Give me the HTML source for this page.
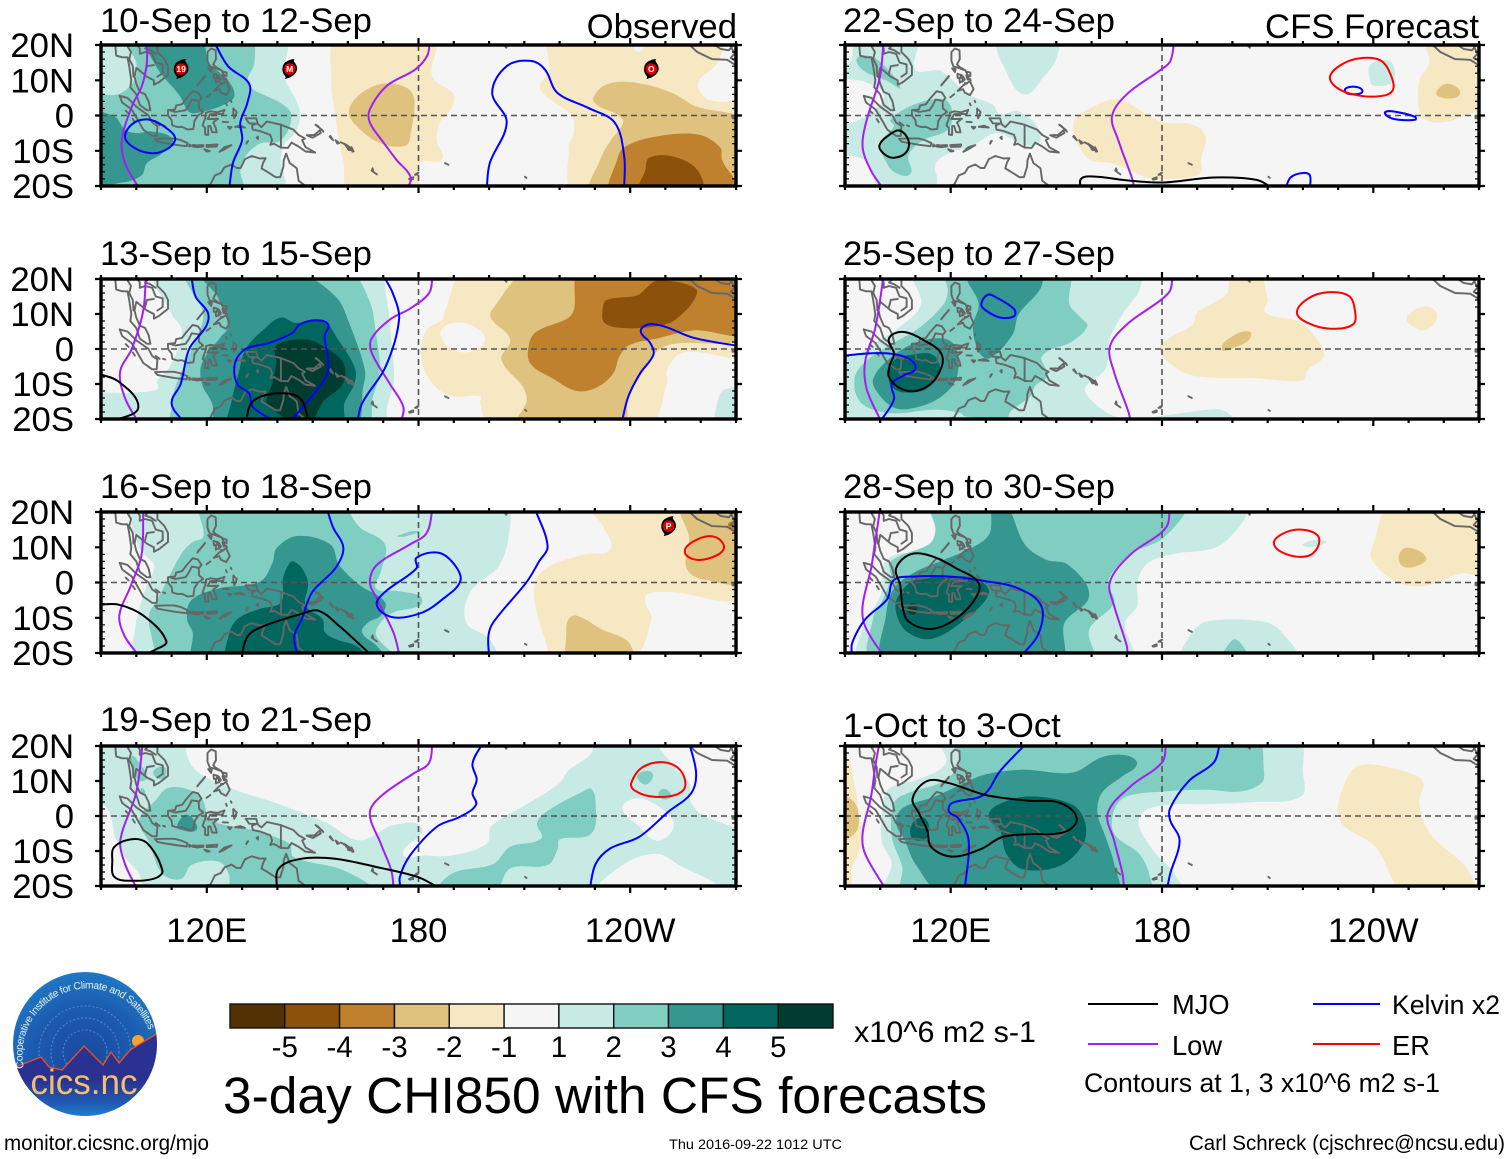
<!DOCTYPE html>
<html lang="en">
<head>
<meta charset="utf-8">
<title>3-day CHI850 with CFS forecasts</title>
<style>
html,body{margin:0;padding:0;background:#fff}
svg{display:block}
text{font-family:"Liberation Sans",Arial,sans-serif;fill:#000}
</style>
</head>
<body>
<svg id="chart" xmlns="http://www.w3.org/2000/svg" width="1510" height="1159" viewBox="0 0 1510 1159">
<rect width="1510" height="1159" fill="#fff"/>
<g id="panels"></g>

<g>
<text x="100" y="32" font-size="34.7">10-Sep to 12-Sep</text>
<text x="100" y="265" font-size="34.7">13-Sep to 15-Sep</text>
<text x="100" y="498" font-size="34.7">16-Sep to 18-Sep</text>
<text x="100" y="731" font-size="34.7">19-Sep to 21-Sep</text>
<text x="843" y="32" font-size="34.7">22-Sep to 24-Sep</text>
<text x="843" y="265" font-size="34.7">25-Sep to 27-Sep</text>
<text x="843" y="498" font-size="34.7">28-Sep to 30-Sep</text>
<text x="843" y="737" font-size="34.7">1-Oct to 3-Oct</text>
<text x="737" y="38" font-size="34.7" text-anchor="end">Observed</text>
<text x="1479" y="38" font-size="34.7" text-anchor="end">CFS Forecast</text>
</g>

<g id="colorbar"></g>
<text x="854" y="1042" font-size="30" textLength="182" lengthAdjust="spacingAndGlyphs">x10^6 m2 s-1</text>
<text x="223" y="1113" font-size="51.4" textLength="764" lengthAdjust="spacingAndGlyphs">3-day CHI850 with CFS forecasts</text>

<g>
<line x1="1088" x2="1158" y1="1004" y2="1004" stroke="#000" stroke-width="2"/>
<text x="1172" y="1014" font-size="27.3">MJO</text>
<line x1="1313" x2="1380" y1="1004" y2="1004" stroke="#0000ff" stroke-width="2"/>
<text x="1392" y="1014" font-size="27" textLength="108" lengthAdjust="spacingAndGlyphs">Kelvin x2</text>
<line x1="1088" x2="1158" y1="1044" y2="1044" stroke="#a020f0" stroke-width="2"/>
<text x="1172" y="1055" font-size="27.3">Low</text>
<line x1="1313" x2="1380" y1="1044" y2="1044" stroke="#ff0000" stroke-width="2"/>
<text x="1392" y="1055" font-size="27.3">ER</text>
<text x="1084" y="1092" font-size="26.5" textLength="356" lengthAdjust="spacingAndGlyphs">Contours at 1, 3 x10^6 m2 s-1</text>
</g>

<text x="4" y="1150" font-size="21" textLength="205" lengthAdjust="spacingAndGlyphs">monitor.cicsnc.org/mjo</text>
<text x="669" y="1149" font-size="14" textLength="173" lengthAdjust="spacingAndGlyphs">Thu 2016-09-22 1012 UTC</text>
<text x="1189" y="1150" font-size="21" textLength="316" lengthAdjust="spacingAndGlyphs">Carl Schreck (cjschrec@ncsu.edu)</text>

<g>
<defs>
<radialGradient id="logoSky" cx="50%" cy="62%" r="65%">
<stop offset="0" stop-color="#1a479f"/><stop offset="0.6" stop-color="#1c5cb0"/><stop offset="1" stop-color="#1f7cc8"/>
</radialGradient>
<linearGradient id="logoGround" x1="0" y1="0" x2="0" y2="1">
<stop offset="0" stop-color="#2b3190"/><stop offset="0.55" stop-color="#2b3190"/><stop offset="0.85" stop-color="#1f5fb8"/><stop offset="1" stop-color="#1f88d4"/>
</linearGradient>
<clipPath id="logoClip"><circle cx="85" cy="1044" r="72"/></clipPath>
<path id="logoArc" d="M24 1068 A65 65 0 1 1 152 1040"/>
</defs>
<circle cx="85" cy="1044" r="72" fill="url(#logoSky)"/>
<g clip-path="url(#logoClip)" fill="none" stroke="#5f97d6" stroke-width="1.2" stroke-dasharray="2 2" opacity="0.7">
<circle cx="85" cy="1052" r="22"/><circle cx="85" cy="1052" r="34"/><circle cx="85" cy="1052" r="46"/>
</g>
<circle cx="138" cy="1041" r="6" fill="#f2a632"/>
<path clip-path="url(#logoClip)" d="M10 1068 L18 1066 L41 1057 L49 1067 L62 1070 L84 1046 L103 1065 L111 1052 L119 1063 L130 1050 L158 1033 L160 1118 L10 1118 Z" fill="url(#logoGround)" stroke="#e2502a" stroke-width="1.4"/>
<text x="84" y="1094" font-size="35" text-anchor="middle" style="fill:#f0c070">cics.nc</text>
<text font-size="10.4" style="fill:#e8f0fa"><textPath href="#logoArc" textLength="195">Cooperative Institute for Climate and Satellites</textPath></text>
</g>
</svg>

<script>
/* ---------- colour scale and axis labels ---------- */
const bandColors = ['#543005','#8c510a','#bf812d','#dfc27d','#f6e8c3','#f5f5f5','#c7eae5','#80cdc1','#35978f','#01665e','#003c30'];
const colorbarLabels = ['-5','-4','-3','-2','-1','1','2','3','4','5'];
const latTicks = [20,10,0,-10,-20];
const latLabels = ['20N','10N','0','10S','20S'];
const lonMajor = [120,180,240];
const lonLabels = ['120E','180','120W'];

/* ---------- geography (lon, lat) ---------- */
const coastLines = [
[94,20.5,94.3,17,96,16.5,97.5,16.5,98,14,98.6,10,98.3,8,100,6,101,3,103,1.5,104,1.5,103.5,4,102.5,6,101,6.7,100,9,99.5,11,100,13.5,101,12.7,103,11,105,10,105,8.7,106.5,9.5,109,11.5,109,14,108,16,106,18,106,20,108,21],
[100,20.5,101,19,101,17.5,102.5,18,104.5,17.5,105.5,15,107.5,14.5,107.5,12,106,11],
[97,20.5,98.5,18,98,16,99,14,99.2,11],[102.5,12,103,14,105,14.3],[104,20.5,102.5,19,104,18.5,105.5,17.5],
[95.3,5.6,97.5,5,100,2.5,103.5,0,104.5,-2,106,-3,105.8,-5.8,104.5,-5.8,102,-4,100.3,-1,98.7,1.7,96,3.7,95.3,5.6],
[97,1.4,97.8,0.6],[99,-1,99.6,-1.9],[105.5,-2,106.6,-2.8],[107.6,-2.8,108.2,-3],
[105.3,-6.6,108,-6.5,110.8,-6.5,112.7,-7,114.5,-7.8,114.3,-8.7,111,-8.3,108,-7.8,106,-7.4,105.3,-6.6],
[115,-8.2,115.6,-8.6,115,-8.8,115,-8.2],[116,-8.4,116.7,-8.4,116.5,-8.9,116,-8.8,116,-8.4],
[116.8,-8.5,119,-8.4,119,-8.8,117,-9,116.8,-8.5],[119.9,-8.4,123,-8.2,122.8,-8.8,120,-8.9,119.9,-8.4],
[119.3,-9.6,120.8,-10.1,120,-10.2,119.3,-9.6],[123.6,-10.3,125,-9,127,-8.4,125,-9.6,123.6,-10.3],
[109,1.5,111,1.7,111.3,2.8,113,3.2,114,4.6,116,6.9,117.5,6.5,118.5,5,117.7,4,117.8,2,119,1,117.5,0,116.5,-1.5,116.2,-3.8,114.6,-4,113,-3.2,111.7,-3.3,110.2,-2.8,110,-1.3,109,0,109,1.5],
[109.5,1.5,111,1,114,1.5,115,3,115.7,4.5,117.5,4.2],
[119.8,0.8,121,1.2,123,0.9,125,1.6,124.5,0.4,121,0.4,120.2,-1,121.5,-1,123.2,-0.9,121.8,-2,122.5,-3.5,122.8,-4.8,121.5,-4.7,121,-3,120.4,-3,120.4,-5.5,119.5,-5.4,119.5,-3.5,118.8,-2.8,119.5,-0.8,119.8,0.8],
[120.2,18,121.2,19,122.5,18.5,122.6,16,121.8,14.5,122.5,13.8,124.2,12.8,123.6,13,122,13.6,120.8,13.9,120.2,15.5,120.2,18],
[120.4,13.4,121.4,13.2,121.2,12.3,120.4,13.4],[121.9,11.8,123.1,11.5,122.6,10.6,122,10.6,121.9,11.8],[124.3,12.5,125.6,12.2,125.6,11.2,124.9,11.4,124.3,12.5],
[124.4,11.4,125,11,125.2,10.2,124.8,10.2,124.4,11.4],[123.2,10.9,123.5,9.9,122.6,9.3,122.5,10.5,123.2,10.9],[123.4,11.2,124,10.2,123.4,9.6],[125.5,10.4,125.7,9.9],
[122,7,123.5,8.5,125.5,9.7,126.5,7.5,125.5,5.8,124,6.5,123.5,7.5,122,7],[124,9.2,124.7,9.1],
[117.3,8.5,119.5,11.2],[117.4,8.7,119.4,11],[119.9,5.2,121,6],
[127.5,2,128.5,1,127.8,-0.8,127.5,0.5,127.5,2],[128,-3.2,130.8,-3.4,129.5,-2.9,128,-3.2],[126,-3.2,127,-3.3,126.5,-3.8,126,-3.2],
[124.5,-1.8,126,-1.9],[131.2,-8,131.7,-7.2,131.4,-7.4,131.2,-8],[134.5,-6,134.5,-6.7,134.1,-6.3,134.5,-6],[125.4,3.5,125.7,2.9],[126.8,4.2,127,3.8],
[131,-0.8,134,-0.8,134.5,-2.5,135.5,-3.3,137,-1.7,141,-2.6,144.5,-4,146,-5.5,147.8,-6.5,147,-7,148,-9,150.7,-10.5,148,-10.2,146,-8.8,144,-7.7,143,-9.2,141,-9.1,139,-8,138,-8.3,138.5,-7,138,-5.5,135,-4.4,133,-4,132.8,-2.8,134,-2.3,132,-2.2,131,-0.8],
[141,-2.6,141,-9.1],
[148.3,-5.6,150.5,-5.5,152,-4.2,152.3,-5,150,-6.3,148.3,-5.6],[150.8,-2.6,152.8,-4.2,153,-4.6,151.5,-3,150.8,-2.6],
[155,-5.8,155.8,-7,154.8,-6,155,-5.8],[156.5,-7,157.5,-7.8,157,-8,156.5,-7],[158,-7.6,159.6,-8.4],[159,-8,160.8,-9.2,160,-9.3,159,-8],[160,-9.5,161,-9.8,160.2,-9.8,160,-9.5],[161,-9,161.6,-10.2,161.2,-10.2,161,-9],
[167,-15,167.2,-16,166.7,-15.6,167,-15],[167.5,-16.2,168.2,-16.7],
[177.3,-18,178.5,-17.5,178.5,-18,177.5,-18.2,177.3,-18],[179,-16.8,180,-16.2,179.6,-16.8,179,-16.8],
[187.5,-13.5,188.5,-14],[210.2,-17.4,210.6,-17.7],[204.4,19.8,204.9,19.2,205,19.7],[197.2,20.2,197.8,20],
[115,-20.8,119,-20,121,-19.6,122.3,-17,124,-16.3,125,-14.7,127,-13.9,128.5,-14.9,129.6,-14.9,130.8,-12.4,132.7,-11.5,135,-12.2,136.7,-12.1,136,-13.3,135.5,-15,137,-15.9,139.5,-17.5,140.8,-17.5,141.7,-14.5,141.8,-12.7,142.5,-10.8,143.5,-13.5,144.5,-14.2,145.5,-15,146,-18.5,148,-20,149,-21],
[254.7,22,259,18,263.2,16,267.5,15.8,272,13],[263.5,20.3,265.6,18.9,268,18.5,270,21],[268.5,19.6,269.6,17.6,268.5,16.3,270,15.5],
[269,-0.1,269.5,-0.2,269.5,-0.8,269,-0.8,269,-0.1]
];

/* ---------- panel 1: 10-Sep to 12-Sep ---------- */
const p1Fills = [
[1,85,22,141.5,22,142,11,145.5,4,146.5,0,145,-5,142,-8,141,-12,141,-22,85,-22],
[2,85,5,94.8,6,99.5,10,100,15,97.5,22,132,22,133.5,15,131.5,10,133,7.5,141,3.5,144,0,141,-7,135,-8,131,-11.5,129.5,-15.5,130,-22,85,-22],
[3,103.6,22,105.6,14,112.4,5.5,115,1,118.5,1,124.7,3,127.8,5.5,126,10,120.6,15,118,22],
[3,85,0,93.4,0,96.8,-4,100,-5,104.3,-4.5,110.4,-7,107,-11,103,-13.5,101.5,-17,96,-19,85,-19],
[-1,157.3,22,155.3,9.5,156,3,157.6,-8,158.7,-13,160.7,-22,179,-22,180.5,-13.5,186.6,-12.5,185.2,-7,186,-2,189.3,2,190,6,183.9,11,183.9,22],
[-2,169.6,9,176.4,8,178.8,4.5,177.8,-5,176.4,-8.5,169.6,-8,163.5,-4,160.3,0.7,162.8,5.5],
[-1,217.6,22,217,12.7,214.5,7.5,223.4,0,224,-5,222.6,-9,224.7,-22,275,-22,275,1.7,262,4.6,259.3,9.3,264.8,15,265.5,22,245.8,22,242.4,18,239,22],
[-2,229.5,5,233.5,8.9,241.7,9.3,251.7,6.5,258.4,2.7,275,-3,275,-22,229.4,-22,231.5,-12.5,234.5,-7,238,-2,236.3,0.3,231,2.7],
[-3,238.3,-9,247,-6,259.3,-5.4,265.5,-9,266,-12.5,270,-22,235,-22,236.3,-12.5],
[-4,245.4,-12,252,-11.6,259,-15.4,260,-22,243,-22,244.3,-15.4]
];
const p1Low = [[103,21,103,15,101.6,8.4,98.8,2.7,95.9,-7,96.8,-13.5,101,-21],[183.2,21,182.5,17,179,13,171,8.4,166.2,1.7,166.2,-2,169.6,-7,173.7,-12.5,177.8,-17.5,176.7,-21]];
const p1Kelvin = [[122,21,126,14,132,9,131.5,3.6,129.5,-2,130,-7,127.4,-13.5,126.3,-21],[199.3,-21,200.2,-13.5,205,-2,200.9,6.5,205,14,211.8,15.5,215.9,13,219.3,6.5,228,2.2,235.6,-2,238.3,-11.6,238.3,-21]];
const p1KelvinLoops = [[96.8,-6,99.5,-2,104.3,-1.3,109.7,-4.5,111,-7,108.4,-9.7,104.3,-10.7,99.5,-9.2]];
const p1Mjo = [];
const p1MjoLoops = [];
const p1ErLoops = [];
const p1Storms = [[112.7,13.2,'19'],[143.5,13.2,'M'],[246,13.2,'O']];

/* ---------- panel 2: 13-Sep to 15-Sep ---------- */
const p2Fills = [
[1,106,22,168,22,171,14,172.5,0,173,-9,171,-17,170.3,-22,85,-22,85,-14,99,-12.5,106,-11.5,106,-9,109.5,-5,113,5,110,10],
[2,115,22,160,22,166,14,168,4,169,-6,167,-14,165,-22,110,-22,110,-17,111,-11,114,-4,117,3,119,10],
[3,118.6,22,145,22,156.5,15,160.5,7,164.8,-6,164.3,-11,161.5,-22,123,-22,121.5,-15.5,118.6,-10,118.6,-4,124,3.5,126,6.5,123,15],
[4,141,9,145,7.5,153,8,157,3,162,-5.5,161.8,-10,159,-15.5,158,-22,126.7,-22,127,-15,129,-7,131,0,136,5.5],
[5,139.7,1,148.2,2.7,153,0.8,158.7,-4,158.5,-10,153,-15,148.8,-22,144,-22,141,-19,137,-15.5,138.5,-10,139.7,-4],
[-1,193.6,22,187.4,10.5,186.9,8.5,182,5,181,-4,185,-11,190,-13.5,197.5,-13.5,197.5,-15.5,200.6,-22,244.7,-22,250.4,-10,250.4,-6,255,-1,275,-0.5,275,22],
[0,186.5,5.5,191.7,7.6,197.8,5,198.7,1.8,193.5,-1,187.9,1],
[1,267,-11.5,275,-12.5,275,-22,265,-22,264.7,-15.3],
[-2,211.6,22,200.7,11,200.7,8.5,206,2.7,203.5,-3,209.7,-11,210.6,-15,208,-22,237.6,-22,239.5,-13.5,242.8,-8,246.6,-1.6,251.4,1.3,275,4.4,275,22],
[-3,226.3,22,224,11,222,8.6,213.5,5,211.4,1.7,211.6,-4,218.2,-8.5,224.8,-12,230.5,-11,235.2,-7,237,-2,240,1.2,247.6,3,258,5.3,275,5.3,275,22],
[-4,245.2,18,247.6,19.5,256,18.5,259,16,253,8.5,247.6,6.5,238,6,232.7,7.5,232.2,11.3,233.3,14,242,15.3]
];
const p2Low = [[102.7,21,102,11,98.7,0,95.4,-6.5,96.8,-14,100.6,-21],[184,21,183,16,177.5,11.5,172,8.5,166.7,3,166.7,-1,171.9,-10,175.7,-16.5,175,-21]];
const p2Kelvin = [[115.6,21,116.8,15,120.3,10.4,119.8,6.5,115,0,112.6,-10,110,-15.5,113.5,-21],[143.3,-21,151,-12,154.4,-6,153.4,3.7,154.4,7,151,8.2,146.3,7,144.3,4.6,137.6,1.7,131,0,128,-4,128.6,-10,132,-12.7,133,-16.5,139.7,-21],[162.6,-21,164,-15.5,170.7,-5,174.5,8.5,172.7,16,170,21],[237.6,-21,239.5,-13.5,242.8,-7,246.6,-1.6,245.7,1.7,243,5,245,7,249.5,6.5,258,3.2,271,0.8]];
const p2KelvinLoops = [];
const p2Mjo = [[89,-7,95,-9.3,100.6,-16.5,95,-20,89,-21],[131,-21,133,-15,139.7,-12.7,146.3,-14,149,-21]];
const p2MjoLoops = [];
const p2ErLoops = [];
const p2Storms = [];

/* ---------- panel 3: 16-Sep to 18-Sep ---------- */
const p3Fills = [
[1,99.7,22,100.8,10,105,5,104.4,2,102.6,-1.7,99.7,-13,100.3,-22,201.8,-22,200,-16,193.5,-11.3,194.7,-2.7,203,5,206,16.5,204.8,22],
[2,118.8,22,157.5,22,163.4,15.6,170.5,10.8,169.3,3,168,-1.7,174,-2.4,180.6,-4,180.4,-6.5,172.9,-8.5,169.3,-11.3,168,-15,173,-22,108,-22,103.8,-13,103.8,-8.5,105.6,-5.6,112.7,8,116,11.5,119,13],
[2,174,13.2,180,14.6,175.8,13],
[3,139.8,9.8,145.7,13.2,155,10.8,157.5,5,163.4,-0.8,170.5,-5.6,169.3,-9.4,165.8,-11.3,164,-14.2,168.2,-18,170.5,-22,116.5,-22,116,-14.2,114.4,-10.4,115.6,-5,123.3,-1.7,135,0.2,138.6,5.5],
[4,144.5,6,147,4,148.7,-0.3,148,-6.5,152.8,-10.4,153.4,-14,156.3,-16,163.4,-18.6,164,-22,126.2,-22,126.2,-15,128.6,-10.4,135,-7.5,141,-5.6,141.6,1.2,143.4,5.5],
[-1,229,22,232.5,15.6,234.3,9.3,227,8,214.8,3,212.8,-4.6,216.6,-19,216.6,-22,240,-22,246,-10.4,244.3,-5.6,245,-3.2,251,-2.7,275,-3,275,22],
[-2,222.5,-10.4,224.8,-9.4,232,-13.3,239.6,-17,240,-22,223,-22,221.9,-14.2],
[-2,255,22,256.7,12.7,256,4,261.4,0.7,275,1.2,275,22],
[-3,268,17,275,18,275,14,269,14.5]
];
const p3Low = [[102,21,101.5,7.9,98.5,-0.8,95.2,-9.4,96.7,-15.2,100.9,-21],[184,21,182.3,14,177.6,10.8,168.2,5,166.2,0.2,168.2,-4.6,172.9,-14.2,174.7,-21]];
const p3Kelvin = [[154,21,155.8,15.6,158.7,9.8,156.4,4,149.9,-2.7,146.9,-10.4,144.8,-15.2,145.7,-21],[213,21,216.6,10.3,214.2,6,210.7,0.2,201.2,-11.3,199.8,-15.2,200,-21]];
const p3KelvinLoops = [[179.4,7,185.9,8.4,190.6,4.5,191.8,0.2,187,-4.6,181.1,-8.5,172.9,-9.9,168.2,-6.5,170.5,-2.7,179.4,4]];
const p3Mjo = [[89,-6.3,95,-6.3,102,-9.4,108.5,-16.6,105.5,-19,100.9,-21],[129.8,-21,131.6,-15.2,136.3,-12.3,146.9,-8.9,151.6,-8,157.5,-12.3,167,-21]];
const p3MjoLoops = [];
const p3ErLoops = [[255.5,8.8,259,12.2,263.8,13,266.6,10.3,264.9,7.9,259,6.4]];
const p3Storms = [[250.9,16,'P']];

/* ---------- panel 4: 19-Sep to 21-Sep ---------- */
const p4Fills = [
[1,85,22,275,22,275,-22,85,-22],
[0,115.6,22,116,14,128,7.5,138.8,4,154,-2,163.4,-7,172.9,-2.6,181,-3.6,175.6,-10.8,182,-11.3,189.3,-11.3,199.4,-7.9,200.6,-3,209.6,2.7,220,9.4,222.5,13,229,18,229,22],
[0,248.4,22,252.6,14,256.7,9.4,257.3,3.7,262.6,-0.7,275,-2,275,22],
[0,237.8,2.2,241.3,5,246,4,252,-1,251.4,-5,247.3,-7,242.5,-3],
[0,231.3,-22,237.8,-14,247.3,-10.8,253.2,-13.6,265,-22],
[0,85,4,91,3,93,-1,94,-6,97,-12,101,-17,101,-22,85,-22],
[2,167,-22,159,-15.6,144.6,-11.7,143.4,-7.9,132.7,-4,121,-1,118.8,4.6,115,7.5,109,8,105.6,4.6,100.9,-1,103.8,-7.9,107.4,-16.5,112.7,-18,115.6,-14,123.3,-13,126.2,-16.5,127.4,-22],
[2,98.5,17,101,15,103,11,101,10,99,13],
[2,105,13,108,14,108,11,105.5,11],
[2,101.5,8,102.5,7,102,6,101.2,7],
[3,111.5,-3,113.8,0.3,116,-0.7,117,-4,112.7,-4],
[2,229,7.7,230.2,3.7,229,-5,220,-6.7,219.5,-9.3,216.6,-14,206,-15,201.2,-22,185.9,-22,189.4,-16.5,201.2,-13.7,206,-8.8,214.8,-6.4,213.6,-2,217,1.7,226.7,7],
[2,242.7,12.3,245.6,12.8,246.5,11.3,244.4,9,242,11],
[2,248,6.5,249.8,7.7,251.6,5.6,249.2,4.8]
];
const p4Low = [[101.8,21,100.9,12.3,99.7,5.6,95.5,-6.9,96.8,-13.7,100.3,-21],[184,21,182.9,15,178.8,12.3,169.3,5.6,166.2,0.8,169.3,-7.9,172.3,-15.6,173,-21]];
const p4Kelvin = [[198.3,21,195.3,15,196.5,10.4,195.3,6.5,196.3,3.2,191.8,-0.2,185.3,-3,177.6,-11.3,174.7,-17.5,175,-21],[256.7,21,258.7,12.3,257.3,6.5,250.8,1.2,242.5,-6,234.3,-9.3,230.2,-13.7,228.5,-21]];
const p4KelvinLoops = [];
const p4Mjo = [[139.8,-21,140.4,-15,146.9,-12.2,156.4,-12.2,168.2,-14.6,180,-17.5,186.5,-21]];
const p4MjoLoops = [[93.2,-12.7,93.8,-8.8,99.1,-6.6,103.2,-7.9,107.4,-15.6,105.6,-17.7,99.7,-18.5,93.9,-17.5]];
const p4ErLoops = [[240.3,9.4,243.3,13.8,249.2,15.4,254,13.3,255.6,8.5,252.8,6,245.8,5.6,241,7.5]];
const p4Storms = [];

/* ---------- panel 5: 22-Sep to 24-Sep ---------- */
const p5Fills = [
[1,93.3,22,110,22,110,13,117,12.7,125,6,132,3,134,0.3,139,1.2,144.5,-3,145,-8,140,-8,133,-5,125.7,-8.9,120.4,-10.3,115.7,-13.7,116.2,-18.5,115,-22,101,-22,95.7,-12.8,85,-9.9,85,-5.5,95.7,-0.2,101,5.6,95.7,9.5,85,12.4,91.5,15.3],
[1,134,22,135.8,12.4,141,6,146.4,11,150,16.2,150,22],
[1,239,14.3,242.6,15.7,245.4,14.8,245.4,9.5,240,8.5,239,10.4],
[2,93.3,15.3,94.5,17,99,16,105.7,8,101.6,10,95.7,12.4],
[2,102.8,-1.2,109.8,3.2,118,4.6,120.4,1.3,119.2,-4,112.2,-7,108,-11.3,108.6,-16.6,103.9,-16,101,-11.8,99.8,-8,103.9,-3],
[-1,167,4.6,175.8,0.3,180.6,-2,188.8,-2.6,192.4,-6,191.2,-11.8,190.6,-16.6,180.6,-18,175.8,-17.6,166.4,-13.7,159.3,-12.3,155.2,-6,155.2,-1.2,158.2,1.3],
[-1,255,22,256,15.3,253,9.5,253.8,-0.2,259.6,-2,266.7,0.3,275,3.2,275,22],
[-2,258,7,260.8,9,264.3,7.5,264.3,5.6,261.4,4.8,258.3,5.6]
];
const p5Low = [[101,21,99.8,10.4,96.2,-1.2,95,-8.9,97.4,-15.7,101,-21],[183.5,21,182.3,15.3,179.4,12.8,170,6,165.8,-0.2,167.6,-7,171.7,-18.5,172,-21]];
const p5Kelvin = [[215,-21,216.5,-17.6,220,-16.3,222,-17,221.9,-21]];
const p5KelvinLoops = [[231.9,7,234.2,8.2,236.9,7,234.8,6],[243.4,1,246.6,1,251.9,-0.4,251.9,-1.2,247.2,-1.2,244.3,-0.4]];
const p5Mjo = [[157,-21,157,-18,160.5,-17.3,171,-18.5,180.6,-19,194.7,-17.6,207,-18.3,212,-21]];
const p5MjoLoops = [[99.8,-8.4,103.3,-5,105.7,-4.3,108,-7,107.5,-10.3,103.9,-12,101,-10.8]];
const p5ErLoops = [[227.7,11,230.7,14.3,236,16.2,241.9,15.7,244.8,11.9,245.4,7,240.7,5.4,234.2,6,229.5,8]];
const p5Storms = [];

/* ---------- panel 6: 25-Sep to 27-Sep ---------- */
const p6Fills = [
[1,85,-3.2,93.3,-1.7,100.4,3,104.5,5.5,111.6,12.8,109.8,22,173.5,22,173.5,16.7,169.4,10.9,165.2,3,164,-5.6,158.2,-11,159.3,-13.9,165.2,-18.7,171.2,-20,182.9,-18.7,193.4,-17.3,198,-17.8,201,-22,85,-22],
[2,118.7,22,119.2,16.7,118,12.8,111,6,102.8,1.2,95.7,-3.7,92.7,-8.5,94.5,-15.3,102.7,-18.3,115.7,-17.3,122.8,-18.3,124,-19.2,135.8,-20,137,-17.8,142.8,-13.4,144,-10.5,147.5,-7.6,146,-2,154.4,2.1,158.8,6.5,157,8.9,153.7,12.8,153,22],
[3,125.2,22,145,22,145.7,17.7,139.3,9.9,137.5,4,131,-2.7,128,-0.8,126.3,6.5,128,12.8],
[3,98,-8.5,102.7,-2.7,109.8,1.7,118,3,121.6,0.2,121.6,-8.5,116.9,-13.9,109.8,-16.8,104,-16.8,99.2,-12.4],
[4,103.9,-3.2,108.6,-1.7,115,-1.7,116.9,-6.6,112.9,-11.5,106.6,-12.4,103,-10.5,102.5,-6.6],
[-1,200,22,207,22,210,14.3,209.4,10.4,218.3,8,221.8,5.5,226,-1.7,221.3,-6,220,-9,206.5,-8.3,188.8,-7.6,181.8,-3.7,179.3,0.2,181.8,3,188.8,7,190,10.4,198.3,15.7],
[-2,197,0,200.6,4,205,4.9,204.7,2.6,201.2,0.7],
[-1,249.5,8.9,253.7,12,257.2,11.4,258,8.4,254.9,5.5,251.9,6]
];
const p6Low = [[101,21,98.6,6,95.7,-3.7,96.2,-11.5,100.4,-21],[183,21,182.3,16.7,179.4,13.8,170,7,165.2,0.7,166.4,-6.6,170.5,-18,171.1,-21]];
const p6Kelvin = [[89,-2,95.7,-1.3,102.7,-1.3,108,-2.7,110,-5.6,106.6,-7.6,103.3,-10,103.9,-14.4,99.8,-21]];
const p6KelvinLoops = [[128.7,12.8,130.5,15.5,132.8,14.8,138,11.4,138,9.4,134,9,130,11]];
const p6Mjo = [];
const p6MjoLoops = [[102.5,3,106.3,4.9,112.2,2.6,117.5,-1.7,116.3,-7.6,111.6,-11.6,106.3,-11.5,102.5,-8,102.7,-4.7,103.9,-1.3]];
const p6ErLoops = [[218.3,10.4,221.3,14.3,227,16.2,233,15.2,234.8,10.9,234.2,7,227.7,5.8,221.3,7.5]];
const p6Storms = [];

/* ---------- panel 7: 28-Sep to 30-Sep ---------- */
const p7Fills = [
[1,114.5,22,203,22,197,10.9,183,8,176,5.5,173,0.2,173,-6.6,169.5,-11.5,171,-22,94.5,-22,95.7,-11.5,100,-4,102,6.5,114,9.9,115.7,14.8],
[1,186,-22,188.4,-14.4,193,-11,208.5,-11,213.8,-13.9,217.9,-22],
[2,197.7,-22,200,-16.3,202.4,-17.3,204.2,-22],
[2,115,22,185.9,22,180.6,12.8,171,8,164.6,0.2,166.4,-5.6,159.3,-13.4,160,-22,98,-22,98,-10,100.4,-5.6,103,1.2,103,6,114,11,115.7,15],
[3,101.6,-22,101.6,-9.5,103.9,-1.7,110,3,117,6,126.3,10,131,13.8,132.2,22,135.8,22,141,10.9,147,6.5,153.4,5,159.3,-3.7,152.3,-11.5,151,-22],
[4,104.5,-8.5,105,-4,109.8,0.7,119.2,1.9,128,0.7,130.8,-3.2,124,-10.5,114.5,-16,107.5,-13.9],
[5,108.6,-6,110.4,-6.6,109.8,-9,108,-8.5],
[-1,245.4,22,240,10.9,239.5,6.5,246.6,0.2,254.9,-1,265.5,2.6,275,1.6,275,22],
[-2,247.2,7.5,249.5,9.9,255,7,252,4.6,248.4,4.6],
[1,220,10.4,221.8,11.7,226.5,11.7,224,10.4]
];
const p7Low = [[100,21,98.6,11.8,97.4,4,95,-6.6,95.7,-12.4,101,-21],[182.1,21,181.7,16.7,179.4,13.8,171.1,8,165.2,0.2,166.4,-6.6,170,-18,170.2,-21]];
const p7Kelvin = [[92,-21,92,-17.3,95.7,-10.5,102,-4.7,103.9,0.7,110,1.7,119.2,1.7,129.9,0.4,139.3,-1.7,145.7,-6.6,145,-14.4,140,-21]];
const p7KelvinLoops = [];
const p7Mjo = [];
const p7MjoLoops = [[104.5,4,108.6,8,114.5,7.5,121.6,4,128,-0.3,126.3,-5.6,120.4,-11,114,-13.2,108,-11,106.3,-6.6,105.7,-0.8]];
const p7ErLoops = [[211.8,10.9,214.2,13.8,219.5,15,224.2,13.3,224.2,10,221.3,7.5,215.4,8]];
const p7Storms = [];

/* ---------- panel 8: 1-Oct to 3-Oct ---------- */
const p8Fills = [
[-1,85,18,90.5,17,92.5,10,94,1,94.5,-8,92,-15,91,-22,85,-22],
[-2,85,7,92,4.6,93.9,0.3,92.7,-5,85,-8],
[1,116.9,22,118.7,15.3,112,10.9,102.7,8,101,4.6,100.4,-7,103.3,-13.7,101.3,-22,185.3,-22,183,-15.7,178.2,-10.8,173.5,-3,174.7,1.2,181.7,3.2,192.4,3.4,206.5,4,219.5,5.6,220,12.4,218.3,22],
[2,120.5,22,122.8,16,118,10,108,6.6,103.9,3.7,103.3,-6,106.3,-14.8,106.3,-22,176.4,-22,176.4,-16.7,173.5,-10.8,166.4,-5,166.4,1.7,170,5.6,180.6,7,192.4,7.5,202.4,7,208.3,9.5,208.9,13.3,206.5,22],
[3,104.5,-2,106.3,2.2,115.7,5.6,124,9.5,129.9,11.9,140.5,13.2,154.6,12.4,162.9,16.8,170,17.3,172.9,14.8,168.8,11.4,162.9,6.6,161.7,0.8,164,-6,166.4,-13.7,167,-22,117.8,-22,110,-13.7,107,-7],
[4,130.8,0.3,134.5,3.7,142.8,5.6,154.6,3.2,158.2,-2,157.6,-8,151,-14.2,140.5,-15.2,135.8,-10.8,134,-4],
[4,109.2,-2,112.8,-0.7,113.4,-6,109.2,-6.5],
[-1,234.8,13.8,239.5,14.8,251.3,11.9,254.2,9.5,253,3.7,256,-5,266.7,-15.2,267.8,-22,249,-22,240.7,-8.9,231.9,-3,229.8,1.3,231.9,9.5]
];
const p8Low = [[99.8,21,98.6,14.3,97.4,5.6,95,-5,95.7,-10.8,101.6,-21],[181.2,21,180,15.3,171.1,8.5,164.6,0.8,166.4,-7,168.8,-16.6,169.2,-21]];
const p8Kelvin = [[141.7,21,134,12.8,129.3,6,120.4,3.7,119.5,1.3,122.2,-0.7,125.1,-7,124,-21],[196.5,21,194.7,15.3,187.6,10,182.3,2.2,182.3,-1.2,185,-7,182.3,-16.6,181.4,-21]];
const p8KelvinLoops = [];
const p8Mjo = [];
const p8MjoLoops = [[109.2,5,113.3,10,119.2,9.5,129.9,6,141.7,4.4,151.1,3.7,155.8,-0.7,152.3,-4.6,141.7,-5.2,134.6,-6,128.7,-9.4,120.4,-11.6,114.5,-8.9,113.3,-4,111,0.8]];
const p8ErLoops = [];
const p8Storms = [];

/* ---------- collections ---------- */
const panelFills = [p1Fills,p2Fills,p3Fills,p4Fills,p5Fills,p6Fills,p7Fills,p8Fills];
const panelLow = [p1Low,p2Low,p3Low,p4Low,p5Low,p6Low,p7Low,p8Low];
const panelKelvin = [p1Kelvin,p2Kelvin,p3Kelvin,p4Kelvin,p5Kelvin,p6Kelvin,p7Kelvin,p8Kelvin];
const panelKelvinLoops = [p1KelvinLoops,p2KelvinLoops,p3KelvinLoops,p4KelvinLoops,p5KelvinLoops,p6KelvinLoops,p7KelvinLoops,p8KelvinLoops];
const panelMjo = [p1Mjo,p2Mjo,p3Mjo,p4Mjo,p5Mjo,p6Mjo,p7Mjo,p8Mjo];
const panelMjoLoops = [p1MjoLoops,p2MjoLoops,p3MjoLoops,p4MjoLoops,p5MjoLoops,p6MjoLoops,p7MjoLoops,p8MjoLoops];
const panelErLoops = [p1ErLoops,p2ErLoops,p3ErLoops,p4ErLoops,p5ErLoops,p6ErLoops,p7ErLoops,p8ErLoops];
const panelStorms = [p1Storms,p2Storms,p3Storms,p4Storms,p5Storms,p6Storms,p7Storms,p8Storms];

/* ---------- drawing ---------- */
const NS = 'http://www.w3.org/2000/svg';
function mk(tag, parent) {
  const el = document.createElementNS(NS, tag);
  parent.appendChild(el);
  return el;
}
function frameFor(i) {
  const col = i < 4 ? 0 : 1;
  const row = i % 4;
  const left = col === 0 ? 101 : 845;
  const width = col === 0 ? 635 : 634;
  const top = [45, 279, 512, 746][row];
  const height = (row === 0 || row === 2) ? 141 : 140;
  return {left, width, top, height, row, col};
}
function scales(f) {
  return {
    x: lon => f.left + (lon - 90) * f.width / 180,
    y: lat => f.top + (20 - lat) * f.height / 40
  };
}
function toPoints(flat, s) {
  const pts = [];
  for (let k = 0; k + 1 < flat.length; k += 2) pts.push([s.x(flat[k]), s.y(flat[k + 1])]);
  return pts;
}
function smoothPath(pts, closed) {
  const n = pts.length;
  const at = k => closed ? pts[(k + n) % n] : pts[Math.max(0, Math.min(n - 1, k))];
  let d = 'M' + pts[0][0].toFixed(1) + ' ' + pts[0][1].toFixed(1);
  const dirAt = k => {
    const a = at(k - 1), b = at(k + 1);
    const dx = b[0] - a[0], dy = b[1] - a[1];
    const len = Math.hypot(dx, dy) || 1;
    return [dx / len, dy / len];
  };
  const last = closed ? n : n - 1;
  for (let k = 0; k < last; k++) {
    const p = at(k), q = at(k + 1);
    const seg = Math.hypot(q[0] - p[0], q[1] - p[1]) / 3;
    const d1 = dirAt(k), d2 = dirAt(k + 1);
    d += 'C' + (p[0] + d1[0] * seg).toFixed(1) + ' ' + (p[1] + d1[1] * seg).toFixed(1) + ' ' +
         (q[0] - d2[0] * seg).toFixed(1) + ' ' + (q[1] - d2[1] * seg).toFixed(1) + ' ' +
         q[0].toFixed(1) + ' ' + q[1].toFixed(1);
  }
  return d + (closed ? 'Z' : '');
}
function straightPath(pts) {
  return 'M' + pts.map(p => p[0].toFixed(1) + ' ' + p[1].toFixed(1)).join('L');
}
function drawLine(parent, flat, s, closed, color, width) {
  const el = mk('path', parent);
  el.setAttribute('d', smoothPath(toPoints(flat, s), closed));
  el.setAttribute('fill', 'none');
  el.setAttribute('stroke', color);
  el.setAttribute('stroke-width', width);
  el.setAttribute('stroke-linejoin', 'round');
  return el;
}

const root = document.getElementById('panels');
const defs = mk('defs', root);

panelFills.forEach((fills, i) => {
  const f = frameFor(i);
  const s = scales(f);
  const g = mk('g', root);
  
  

  const clip = mk('clipPath', defs);
  clip.setAttribute('id', 'clip' + i);
  const clipRect = mk('rect', clip);
  clipRect.setAttribute('x', f.left);
  clipRect.setAttribute('y', f.top);
  clipRect.setAttribute('width', f.width);
  clipRect.setAttribute('height', f.height);

  const plot = mk('g', g);
  plot.setAttribute('clip-path', 'url(#clip' + i + ')');

  const bg = mk('rect', plot);
  bg.setAttribute('x', f.left);
  bg.setAttribute('y', f.top);
  bg.setAttribute('width', f.width);
  bg.setAttribute('height', f.height);
  bg.setAttribute('fill', bandColors[5]);
  
  

  fills.forEach(band => {
    const level = band[0];
    const el = mk('path', plot);
    el.setAttribute('d', smoothPath(toPoints(band.slice(1), s), true));
    el.setAttribute('fill', bandColors[level + 5]);
    
    
  });

  coastLines.forEach(line => {
    const el = mk('path', plot);
    el.setAttribute('d', straightPath(toPoints(line, s)));
    el.setAttribute('fill', 'none');
    el.setAttribute('stroke', '#666');
    el.setAttribute('stroke-width', '1.9');
    el.setAttribute('stroke-linejoin', 'round');
    el.setAttribute('stroke-linecap', 'round');
    
    
  });

  const equator = mk('line', plot);
  equator.setAttribute('x1', f.left);
  equator.setAttribute('x2', f.left + f.width);
  equator.setAttribute('y1', s.y(0));
  equator.setAttribute('y2', s.y(0));
  equator.setAttribute('stroke', '#555');
  equator.setAttribute('stroke-width', '1.6');
  equator.setAttribute('stroke-dasharray', '6 4');
  
  

  const dateline = mk('line', plot);
  dateline.setAttribute('x1', s.x(180));
  dateline.setAttribute('x2', s.x(180));
  dateline.setAttribute('y1', f.top);
  dateline.setAttribute('y2', f.top + f.height);
  dateline.setAttribute('stroke', '#555');
  dateline.setAttribute('stroke-width', '1.6');
  dateline.setAttribute('stroke-dasharray', '6 4');
  
  

  panelLow[i].forEach(flat => {
    const el = drawLine(plot, flat, s, false, '#a020f0', 2);
    
    
  });
  panelKelvin[i].forEach(flat => {
    const el = drawLine(plot, flat, s, false, '#0000ff', 2);
    
    
  });
  panelKelvinLoops[i].forEach(flat => {
    const el = drawLine(plot, flat, s, true, '#0000ff', 2);
    
    
  });
  panelMjo[i].forEach(flat => {
    const el = drawLine(plot, flat, s, false, '#000', 2);
    
    
  });
  panelMjoLoops[i].forEach(flat => {
    const el = drawLine(plot, flat, s, true, '#000', 2);
    
    
  });
  panelErLoops[i].forEach(flat => {
    const el = drawLine(plot, flat, s, true, '#ff0000', 2);
    
    
  });

  panelStorms[i].forEach(storm => {
    const cx = s.x(storm[0]);
    const cy = s.y(storm[1]);
    const sg = mk('g', plot);
    sg.setAttribute('transform', 'translate(' + cx.toFixed(1) + ' ' + cy.toFixed(1) + ')');
    
    
    const arms = mk('path', sg);
    arms.setAttribute('d', 'M-4 -7 C-1 -9 2 -10 5 -10 C3 -8 5 -7 6 -5 C8 -2 8 2 5 5 C3 7 1 8 -1 9 C-2 9 -4 10 -5 10 C-3 8 -5 7 -6 5 C-8 2 -8 -4 -4 -7Z');
    arms.setAttribute('fill', '#000');
    const body = mk('circle', sg);
    body.setAttribute('r', '5.8');
    body.setAttribute('fill', '#d80000');
    const label = mk('text', sg);
    label.setAttribute('text-anchor', 'middle');
    label.setAttribute('y', '3');
    label.setAttribute('font-size', '8.5');
    label.setAttribute('font-weight', 'bold');
    label.setAttribute('style', 'fill:#fff');
    label.textContent = storm[2];
    
    
  });

  /* ticks */
  let tickD = '';
  const bottom = f.top + f.height;
  const right = f.left + f.width;
  for (let lon = 90; lon <= 270; lon += 10) {
    const x = s.x(lon).toFixed(1);
    const major = lonMajor.indexOf(lon) >= 0;
    const len = major ? 7 : 4;
    tickD += 'M' + x + ' ' + f.top + 'V' + (f.top - len) + 'M' + x + ' ' + bottom + 'V' + (bottom + len);
  }
  let minorD = '';
  for (let lat = -20; lat <= 20; lat += 2) {
    const y = s.y(lat).toFixed(1);
    if (lat % 10 === 0) {
      tickD += 'M' + (f.left - 6) + ' ' + y + 'H' + f.left + 'M' + right + ' ' + y + 'H' + (right + 6);
    } else {
      minorD += 'M' + f.left + ' ' + y + 'H' + (f.left + 4) + 'M' + right + ' ' + y + 'H' + (right - 4);
    }
  }
  const ticks = mk('path', g);
  ticks.setAttribute('d', tickD);
  ticks.setAttribute('stroke', '#000');
  ticks.setAttribute('stroke-width', '2.2');
  ticks.setAttribute('fill', 'none');
  
  
  const minor = mk('path', g);
  minor.setAttribute('d', minorD);
  minor.setAttribute('stroke', '#000');
  minor.setAttribute('stroke-width', '1.2');
  minor.setAttribute('fill', 'none');
  
  

  const frame = mk('rect', g);
  frame.setAttribute('x', f.left);
  frame.setAttribute('y', f.top);
  frame.setAttribute('width', f.width);
  frame.setAttribute('height', f.height);
  frame.setAttribute('fill', 'none');
  frame.setAttribute('stroke', '#000');
  frame.setAttribute('stroke-width', '3.4');
  
  

  if (f.col === 0) {
    latTicks.forEach((lat, t) => {
      const lab = mk('text', g);
      lab.setAttribute('x', '74');
      lab.setAttribute('y', (s.y(lat) + 12).toFixed(1));
      lab.setAttribute('text-anchor', 'end');
      lab.setAttribute('font-size', '34.7');
      lab.textContent = latLabels[t];
      
      
    });
  }
  if (f.row === 3) {
    lonMajor.forEach((lon, t) => {
      const lab = mk('text', g);
      lab.setAttribute('x', s.x(lon).toFixed(1));
      lab.setAttribute('y', '942');
      lab.setAttribute('text-anchor', 'middle');
      lab.setAttribute('font-size', '34.7');
      lab.textContent = lonLabels[t];
      
      
    });
  }
});

/* colorbar */
const cb = document.getElementById('colorbar');
const cbLeft = 230, cbRight = 833, cbTop = 1004, cbHeight = 24;
const cbStep = (cbRight - cbLeft) / bandColors.length;
bandColors.forEach((color, k) => {
  const cell = mk('rect', cb);
  cell.setAttribute('x', (cbLeft + k * cbStep).toFixed(1));
  cell.setAttribute('y', cbTop);
  cell.setAttribute('width', cbStep.toFixed(1));
  cell.setAttribute('height', cbHeight);
  cell.setAttribute('fill', color);
  cell.setAttribute('stroke', '#111');
  cell.setAttribute('stroke-width', '1.4');
  
  
});
colorbarLabels.forEach((txt, k) => {
  const lab = mk('text', cb);
  lab.setAttribute('x', (cbLeft + (k + 1) * cbStep).toFixed(1));
  lab.setAttribute('y', '1057');
  lab.setAttribute('text-anchor', 'middle');
  lab.setAttribute('font-size', '29.5');
  lab.textContent = txt;
  
  
});
</script>
</body>
</html>
